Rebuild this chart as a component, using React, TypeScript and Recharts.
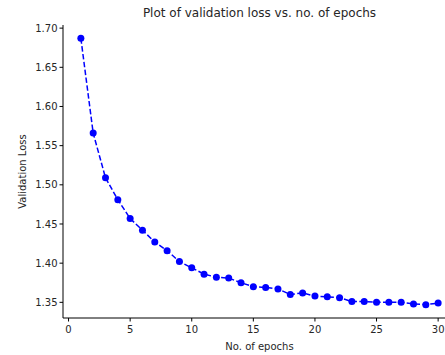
import { LineChart, Line, XAxis, YAxis, Label } from "recharts";

const epochs = [
  1, 2, 3, 4, 5, 6, 7, 8, 9, 10, 11, 12, 13, 14, 15, 16, 17, 18, 19, 20, 21,
  22, 23, 24, 25, 26, 27, 28, 29, 30,
];
const valLoss = [
  1.687, 1.566, 1.509, 1.481, 1.457, 1.442, 1.427, 1.416, 1.402, 1.394, 1.386,
  1.382, 1.381, 1.375, 1.37, 1.369, 1.367, 1.36, 1.362, 1.358, 1.357, 1.356,
  1.351, 1.351, 1.35, 1.35, 1.35, 1.348, 1.347, 1.349,
];
const xTicks = [0, 5, 10, 15, 20, 25, 30];
const yTicks = [1.35, 1.4, 1.45, 1.5, 1.55, 1.6, 1.65, 1.7];

const data = epochs.map((e, i) => ({ epoch: e, loss: valLoss[i] }));

const font = "'DejaVu Sans', sans-serif";
const tickStyle = { fontSize: 10, fill: "#262626", fontFamily: font };

export default function App() {
  return (
    <div
      style={{
        position: "fixed",
        left: 0,
        top: 0,
        width: 445,
        height: 355,
        overflow: "hidden",
        background: "#fff",
      }}
    >
      <LineChart
        width={470}
        height={355}
        data={data}
        margin={{ top: 25, right: 14, left: 0, bottom: 17 }}
      >
        <text
          x={259.5}
          y={17}
          textAnchor="middle"
          fontSize={12}
          fontFamily={font}
          fill="#262626"
        >
          Plot of validation loss vs. no. of epochs
        </text>
        <XAxis
          dataKey="epoch"
          type="number"
          domain={[-0.45, 31.45]}
          ticks={xTicks}
          allowDataOverflow
          height={20}
          tick={tickStyle}
          tickSize={3.5}
          tickMargin={4}
          axisLine={{ stroke: "#000" }}
          tickLine={{ stroke: "#000" }}
        >
          <Label
            value="No. of epochs"
            position="bottom"
            offset={5}
            style={{ fontSize: 10, fill: "#262626", fontFamily: font }}
          />
        </XAxis>
        <XAxis
          xAxisId="top"
          orientation="top"
          dataKey="epoch"
          type="number"
          domain={[-0.45, 31.45]}
          height={0}
          tick={false}
          tickLine={false}
          axisLine={{ stroke: "#000" }}
        />
        <YAxis
          type="number"
          domain={[1.33, 1.704]}
          ticks={yTicks}
          allowDataOverflow
          width={63}
          tick={tickStyle}
          tickSize={3.5}
          tickMargin={2}
          tickFormatter={(v: number) => v.toFixed(2)}
          axisLine={{ stroke: "#000" }}
          tickLine={{ stroke: "#000" }}
        >
          <Label
            value="Validation Loss"
            angle={-90}
            position="insideLeft"
            offset={22}
            style={{
              fontSize: 10,
              fill: "#262626",
              fontFamily: font,
              textAnchor: "middle",
            }}
          />
        </YAxis>
        <Line
          dataKey="loss"
          type="linear"
          stroke="#0000ff"
          strokeWidth={1.5}
          strokeDasharray="5.5 2.4"
          dot={{ r: 3.5, fill: "#0000ff", stroke: "#0000ff", strokeWidth: 0 }}
          activeDot={false}
          isAnimationActive={false}
        />
      </LineChart>
    </div>
  );
}
